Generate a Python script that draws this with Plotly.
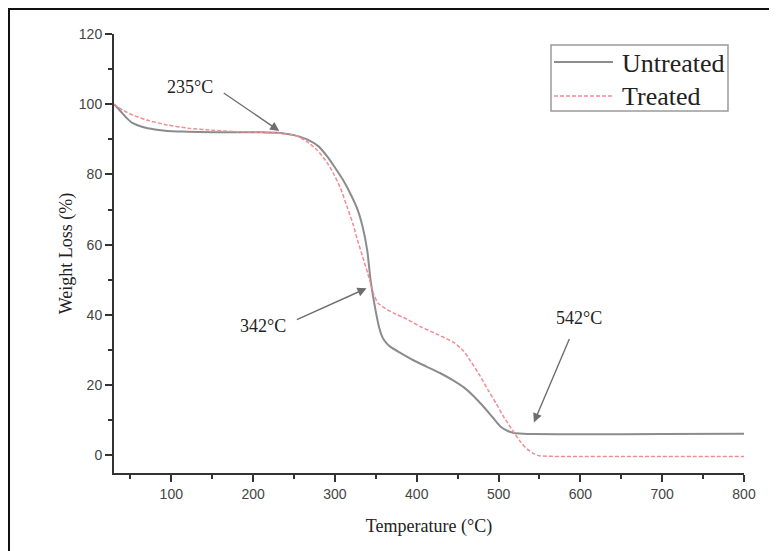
import plotly.graph_objects as go

# ---- data ----
temp_untreated = [30, 37, 45, 53, 65, 80, 95, 120, 150, 180, 210, 233, 250, 266, 280, 291, 300,
                  310, 320, 328, 334, 339.5, 343.6, 349.7, 354, 358, 363, 368, 380, 396, 412, 429,
                  445, 458, 470, 482, 493, 503, 512, 519, 530, 543, 600, 700, 800]
wt_untreated = [100, 98.3, 96.2, 94.6, 93.5, 92.8, 92.4, 92.2, 92.0, 92.0, 92.0, 91.8, 91.2, 90.0,
                88.0, 85.0, 82.0, 78.4, 74.0, 69.8, 65.0, 58.4, 49.9, 41.3, 36.5, 33.7, 32.0, 30.9,
                29.2, 27.1, 25.3, 23.4, 21.3, 19.3, 16.8, 13.8, 10.8, 8.1, 6.9, 6.4, 6.2, 6.1, 6.0,
                6.1, 6.2]

temp_treated = [30, 35, 45, 53, 70, 95, 120, 150, 180, 210, 230, 245, 254, 265, 278.6, 290, 298,
                307, 315, 322, 327.6, 334, 340, 343.6, 348, 353, 362, 372, 388, 405, 425, 445, 457,
                466, 477, 487, 497, 506.5, 517, 527, 535, 543, 550, 600, 700, 800]
wt_treated = [100, 99.2, 97.8, 96.9, 95.5, 94.1, 93.2, 92.6, 92.2, 92.0, 91.8, 91.4, 90.9, 89.5,
              86.9, 83.5, 80.4, 76.0, 70.7, 66.0, 61.3, 56.5, 51.9, 49.0, 45.5, 43.3, 41.8, 40.5,
              38.8, 36.6, 34.5, 32.2, 29.8, 26.8, 22.8, 18.7, 14.8, 10.9, 7.2, 3.8, 1.8, 0.5, -0.1,
              -0.3, -0.3, -0.3]

series_names = ["Untreated", "Treated"]
series_colors = ["#8c8c8c", "#f28b92"]

# annotations: label, label position (T, W), arrow tail (T, W), arrow head (T, W)
ann_labels = ["235°C", "342°C", "542°C"]
ann_text_pos = [(123, 104.9), (212.5, 36.8), (598.4, 39.0)]
ann_tail = [(162.3, 103.5), (251.7, 38.5), (587.3, 33.6)]
ann_head = [(232.0, 92.4), (338.7, 47.6), (543.2, 9.4)]

SERIF = "Liberation Serif, Times New Roman, serif"
SANS = "Liberation Sans, Arial, sans-serif"

fig = go.Figure()
fig.add_trace(go.Scatter(x=temp_untreated, y=wt_untreated, mode="lines", name=series_names[0],
                         line=dict(color=series_colors[0], width=2, shape="spline", smoothing=0.6)))
fig.add_trace(go.Scatter(x=temp_treated, y=wt_treated, mode="lines", name=series_names[1],
                         line=dict(color=series_colors[1], width=1.5, dash="4px,2px",
                                   shape="spline", smoothing=0.6)))

# page-pixel -> paper coordinates (plot area spans x 114..744, y 34..473 on the page)
px2x = lambda p: (p - 114) / 630
py2y = lambda p: (473 - p) / 439

annotations = []
for lab, tp, tl, hd in zip(ann_labels, ann_text_pos, ann_tail, ann_head):
    annotations.append(dict(x=tp[0], y=tp[1], xref="x", yref="y", text=lab, showarrow=False,
                            font=dict(family=SERIF, size=18, color="#222222")))
    annotations.append(dict(x=hd[0], y=hd[1], xref="x", yref="y", ax=tl[0], ay=tl[1],
                            axref="x", ayref="y", text="", showarrow=True, arrowhead=2,
                            arrowsize=1.3, arrowwidth=1.4, arrowcolor="#6e6e6e"))

# legend drawn as a framed box with line samples and labels
legend_rows_y = [62, 96]
for name, ly in zip(series_names, legend_rows_y):
    annotations.append(dict(x=px2x(620), y=py2y(ly + 1), xref="paper", yref="paper", text=name,
                            showarrow=False, xanchor="left", yanchor="middle",
                            font=dict(family=SERIF, size=26, color="#222222")))

shapes = [
    # outer frame (left and top edges of the picture)
    dict(type="line", xref="paper", yref="paper", x0=px2x(9), x1=px2x(9), y0=py2y(9), y1=py2y(560),
         line=dict(color="#111111", width=2)),
    dict(type="line", xref="paper", yref="paper", x0=px2x(8), x1=px2x(790), y0=py2y(9), y1=py2y(9),
         line=dict(color="#111111", width=2)),
    # legend box
    dict(type="rect", xref="paper", yref="paper", x0=px2x(551), x1=px2x(728), y0=py2y(45),
         y1=py2y(111), line=dict(color="#9a9a9a", width=1.5), fillcolor="white", layer="above"),
    dict(type="line", xref="paper", yref="paper", x0=px2x(554), x1=px2x(613),
         y0=py2y(legend_rows_y[0]), y1=py2y(legend_rows_y[0]),
         line=dict(color=series_colors[0], width=2), layer="above"),
    dict(type="line", xref="paper", yref="paper", x0=px2x(554), x1=px2x(613),
         y0=py2y(legend_rows_y[1]), y1=py2y(legend_rows_y[1]),
         line=dict(color=series_colors[1], width=1.5, dash="4px,2px"), layer="above"),
]

fig.update_layout(
    width=769, height=543,
    margin=dict(l=106, r=33, t=26, b=78, autoexpand=False),
    paper_bgcolor="white", plot_bgcolor="white",
    showlegend=False,
    annotations=annotations,
    shapes=shapes,
)

fig.update_xaxes(range=[30, 800], tick0=0, dtick=100, ticks="outside", ticklen=7, tickwidth=1.5,
                 tickcolor="#333333", showline=True, linecolor="#333333", linewidth=2,
                 showgrid=False, zeroline=False,
                 tickfont=dict(family=SANS, size=14, color="#444444"),
                 minor=dict(ticks="outside", ticklen=4, tickwidth=1.5, tickcolor="#333333",
                            tick0=0, dtick=50, showgrid=False),
                 title=dict(text="Temperature (°C)", standoff=19,
                            font=dict(family=SERIF, size=18, color="#222222")))
fig.update_yaxes(range=[-5, 120], tick0=0, dtick=20, ticks="outside", ticklen=7, tickwidth=1.5,
                 tickcolor="#333333", showline=True, linecolor="#333333", linewidth=2,
                 showgrid=False, zeroline=False,
                 tickfont=dict(family=SANS, size=14, color="#444444"),
                 minor=dict(ticks="outside", ticklen=4, tickwidth=1.5, tickcolor="#333333",
                            tick0=0, dtick=10, showgrid=False),
                 title=dict(text="Weight Loss (%)", standoff=2,
                            font=dict(family=SERIF, size=18, color="#222222")))

fig.write_html("out.html")
